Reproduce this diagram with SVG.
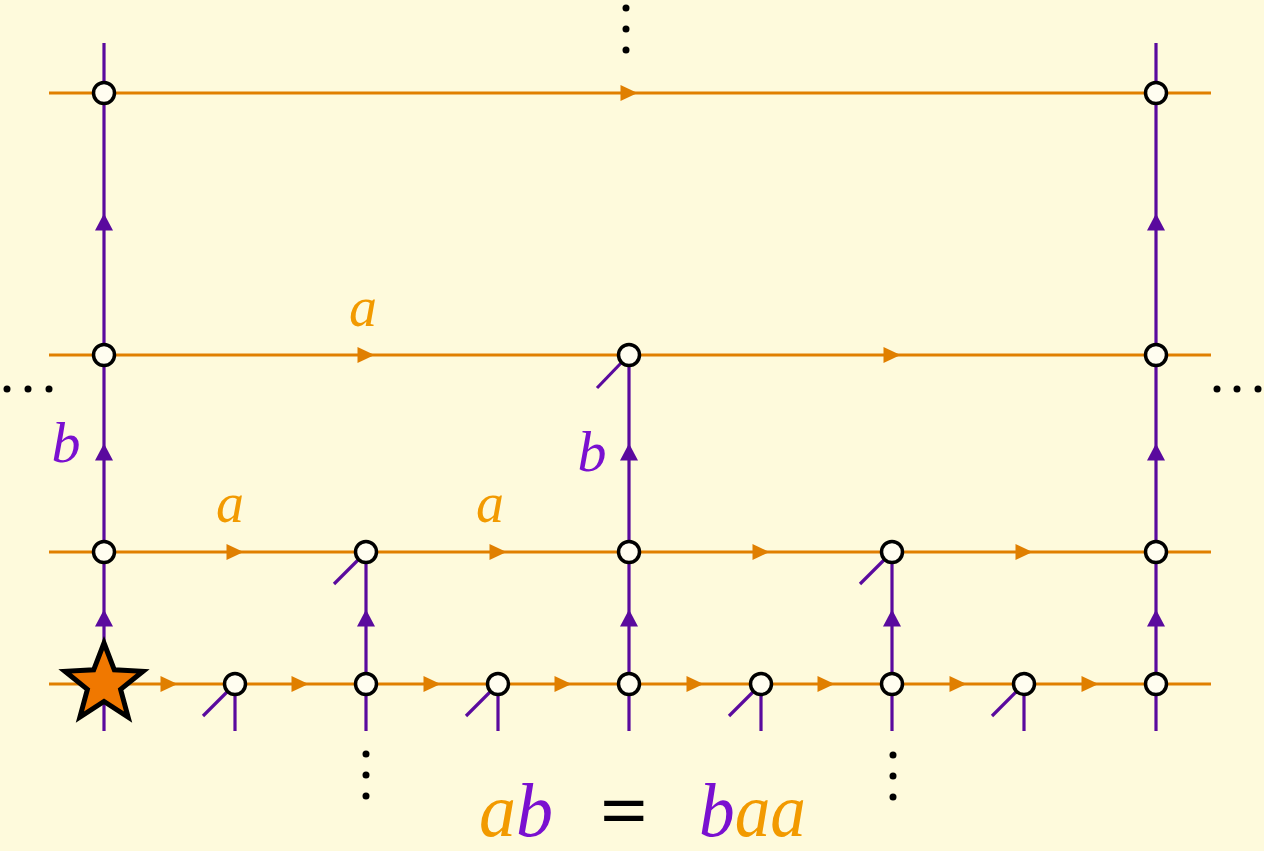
<svg xmlns="http://www.w3.org/2000/svg" xmlns:xlink="http://www.w3.org/1999/xlink" width="1264" height="851" viewBox="0 0 1264 851">
<style>
.h{stroke:#E07F00;stroke-width:3.2;fill:none}
.v{stroke:#5A0A9E;stroke-width:3.2;fill:none}
.ao{fill:#E07F00}
.ap{fill:#5A0A9E}
.n{fill:#FFFDF0;stroke:#000;stroke-width:3.5}
.d{fill:#000}
.la{font-family:"Liberation Serif",serif;font-style:italic;fill:#F29A00;text-anchor:middle}
.lb{font-family:"Liberation Serif",serif;font-style:italic;fill:#7A10D0;text-anchor:middle}
</style>
<defs>
<path id="ar" d="M-8.5,-8 L8.5,0 L-8.5,8 Z"/>
<path id="au" d="M-9,8.5 L0,-8.5 L9,8.5 Z"/>
</defs>
<rect width="1264" height="851" fill="#FEFADC"/>
<g id="connectors">
<g id="horizontal">
<line class="h" x1="49" y1="93" x2="1211" y2="93"/>
<line class="h" x1="49" y1="355" x2="1211" y2="355"/>
<line class="h" x1="49" y1="552" x2="1211" y2="552"/>
<line class="h" x1="49" y1="684" x2="1211" y2="684"/>
</g>
<g id="vertical">
<line class="v" x1="104" y1="43" x2="104" y2="731"/>
<line class="v" x1="1156" y1="43" x2="1156" y2="731"/>
<line class="v" x1="366" y1="552" x2="366" y2="731"/>
<line class="v" x1="629" y1="355" x2="629" y2="731"/>
<line class="v" x1="892" y1="552" x2="892" y2="731"/>
<line class="v" x1="235" y1="684" x2="235" y2="731"/>
<line class="v" x1="498" y1="684" x2="498" y2="731"/>
<line class="v" x1="761" y1="684" x2="761" y2="731"/>
<line class="v" x1="1024" y1="684" x2="1024" y2="731"/>
<line class="v" x1="229" y1="690" x2="203" y2="716"/>
<line class="v" x1="492" y1="690" x2="466" y2="716"/>
<line class="v" x1="755" y1="690" x2="729" y2="716"/>
<line class="v" x1="1018" y1="690" x2="992" y2="716"/>
<line class="v" x1="360" y1="558" x2="334" y2="584"/>
<line class="v" x1="886" y1="558" x2="860" y2="584"/>
<line class="v" x1="623" y1="361" x2="597" y2="388"/>
</g>
<g id="arrows-h" class="ao">
<use xlink:href="#ar" x="169" y="684"/>
<use xlink:href="#ar" x="300" y="684"/>
<use xlink:href="#ar" x="432" y="684"/>
<use xlink:href="#ar" x="563" y="684"/>
<use xlink:href="#ar" x="695" y="684"/>
<use xlink:href="#ar" x="826" y="684"/>
<use xlink:href="#ar" x="958" y="684"/>
<use xlink:href="#ar" x="1090" y="684"/>
<use xlink:href="#ar" x="235" y="552"/>
<use xlink:href="#ar" x="498" y="552"/>
<use xlink:href="#ar" x="761" y="552"/>
<use xlink:href="#ar" x="1024" y="552"/>
<use xlink:href="#ar" x="366" y="355"/>
<use xlink:href="#ar" x="892" y="355"/>
<use xlink:href="#ar" x="629" y="93"/>
</g>
<g id="arrows-v" class="ap">
<use xlink:href="#au" x="104" y="618"/>
<use xlink:href="#au" x="104" y="452"/>
<use xlink:href="#au" x="104" y="222"/>
<use xlink:href="#au" x="366" y="618"/>
<use xlink:href="#au" x="629" y="618"/>
<use xlink:href="#au" x="629" y="452"/>
<use xlink:href="#au" x="892" y="618"/>
<use xlink:href="#au" x="1156" y="618"/>
<use xlink:href="#au" x="1156" y="452"/>
<use xlink:href="#au" x="1156" y="222"/>
</g>
</g>
<g id="nodes">
<g id="n-r0"><circle class="n" cx="104" cy="93" r="10.5"/><circle class="n" cx="1156" cy="93" r="10.5"/></g>
<g id="n-r1"><circle class="n" cx="104" cy="355" r="10.5"/><circle class="n" cx="629" cy="355" r="10.5"/><circle class="n" cx="1156" cy="355" r="10.5"/></g>
<g id="n-r2"><circle class="n" cx="104" cy="552" r="10.5"/><circle class="n" cx="366" cy="552" r="10.5"/><circle class="n" cx="629" cy="552" r="10.5"/><circle class="n" cx="892" cy="552" r="10.5"/><circle class="n" cx="1156" cy="552" r="10.5"/></g>
<g id="n-r3"><circle class="n" cx="235" cy="684" r="10.5"/><circle class="n" cx="366" cy="684" r="10.5"/><circle class="n" cx="498" cy="684" r="10.5"/><circle class="n" cx="629" cy="684" r="10.5"/><circle class="n" cx="761" cy="684" r="10.5"/><circle class="n" cx="892" cy="684" r="10.5"/><circle class="n" cx="1024" cy="684" r="10.5"/><circle class="n" cx="1156" cy="684" r="10.5"/></g>
<g id="star"><polygon points="104,643 114.3,669.8 143,671.3 120.6,689.4 128.1,717.2 104,701.5 79.9,717.2 87.4,689.4 65,671.3 93.7,669.8" fill="#F07800" stroke="#000" stroke-width="5" stroke-linejoin="miter"/></g>
</g>
<g id="dots" class="d">
<circle cx="626" cy="8" r="3.5"/><circle cx="626" cy="29" r="3.5"/><circle cx="626" cy="50" r="3.5"/>
<circle cx="7" cy="389" r="3.5"/><circle cx="28" cy="389" r="3.5"/><circle cx="49" cy="389" r="3.5"/>
<circle cx="1217" cy="389" r="3.5"/><circle cx="1237" cy="389" r="3.5"/><circle cx="1258" cy="389" r="3.5"/>
<circle cx="366" cy="754" r="3.5"/><circle cx="366" cy="775" r="3.5"/><circle cx="366" cy="796" r="3.5"/>
<circle cx="893" cy="755" r="3.5"/><circle cx="893" cy="776" r="3.5"/><circle cx="893" cy="797" r="3.5"/>
</g>
<g id="labels">
<text class="la" x="363" y="326" font-size="56">a</text>
<text class="la" x="230" y="522" font-size="56">a</text>
<text class="la" x="490" y="522" font-size="56">a</text>
<text class="lb" x="66" y="462" font-size="58">b</text>
<text class="lb" x="592" y="471" font-size="58">b</text>
</g>
<g id="equation" font-family="'Liberation Serif',serif" font-size="76">
<text x="479" y="836" font-style="italic" textLength="74" lengthAdjust="spacingAndGlyphs"><tspan fill="#F29A00">a</tspan><tspan fill="#7A10D0">b</tspan></text>
<text x="600" y="836" fill="#000" font-weight="bold" textLength="48" lengthAdjust="spacingAndGlyphs">=</text>
<text x="699" y="836" font-style="italic" textLength="107" lengthAdjust="spacingAndGlyphs"><tspan fill="#7A10D0">b</tspan><tspan fill="#F29A00">aa</tspan></text>
</g>
</svg>
